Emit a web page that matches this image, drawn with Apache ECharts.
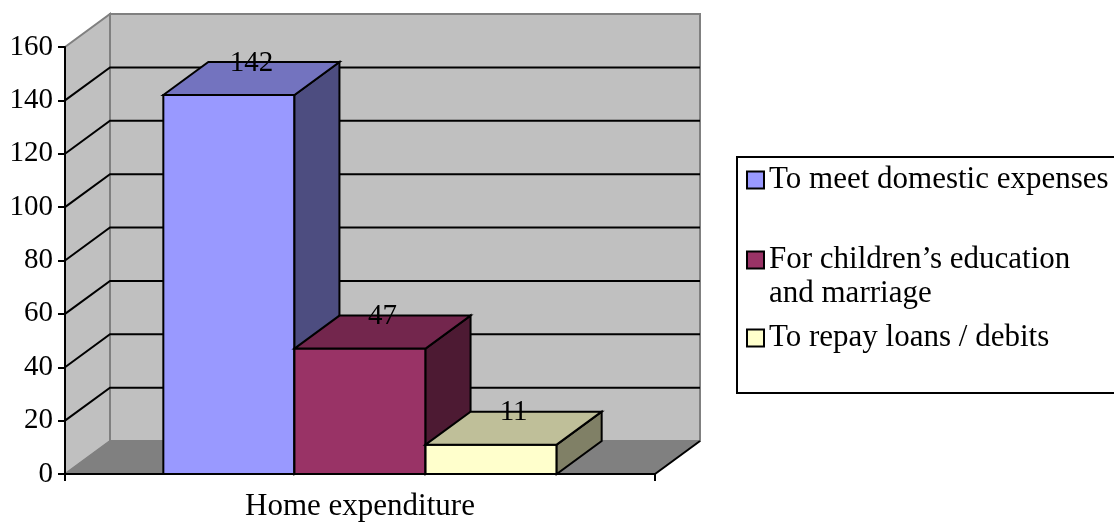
<!DOCTYPE html>
<html><head><meta charset="utf-8">
<script src="https://cdn.jsdelivr.net/npm/echarts@6/dist/echarts.min.js"></script>
<style>html,body{margin:0;padding:0;background:#fff}#c{width:1114px;height:522px}</style>
</head><body><div id="c"></div>
<script>
// ---- data ----
const categories = ['Home expenditure'];
const seriesNames = ['To meet domestic expenses', 'For children’s education and marriage', 'To repay loans / debits'];
const domestic = [142];
const education = [47];
const loans = [11];
const yTicks = [0, 20, 40, 60, 80, 100, 120, 140, 160];

// ---- style ----
const FONT = '"Liberation Serif", "Times New Roman", serif';
const DX = 45, DY = -33;       // 3D depth offset in pixels
const GAP = 1.5;               // gap width (fraction of bar width)
const PALETTE = [
  { front: '#9999FF', top: '#7373BF', side: '#4D4D80' },
  { front: '#993366', top: '#73264D', side: '#4D1A33' },
  { front: '#FFFFCC', top: '#BFBF99', side: '#808066' }
];
const seriesData = [domestic, education, loans];

function poly(points, fill, stroke, lw) {
  return { type: 'polygon', shape: { points }, style: { fill, stroke, lineWidth: lw } };
}
function line(points, stroke, lw) {
  return { type: 'polyline', shape: { points }, style: { fill: 'none', stroke, lineWidth: lw } };
}

function renderWalls(params, api) {
  const cs = params.coordSys;
  const xL = cs.x, xR = cs.x + cs.width;
  const yB = api.coord([0, yTicks[0]])[1];
  const yT = api.coord([0, yTicks[yTicks.length - 1]])[1];
  const ch = [];
  ch.push(poly([[xL + DX, yT + DY], [xR + DX, yT + DY], [xR + DX, yB + DY], [xL + DX, yB + DY]], '#C0C0C0', '#808080', 2));
  ch.push(poly([[xL, yT], [xL + DX, yT + DY], [xL + DX, yB + DY], [xL, yB]], '#C0C0C0', '#808080', 2));
  ch.push(poly([[xL, yB], [xL + DX, yB + DY], [xR + DX, yB + DY], [xR, yB]], '#808080', '#808080', 1));
  for (let i = 1; i < yTicks.length - 1; i++) {
    const y = api.coord([0, yTicks[i]])[1];
    ch.push(line([[xL, y], [xL + DX, y + DY], [xR + DX, y + DY]], '#000', 2));
  }
  ch.push(line([[xR, yB], [xR + DX, yB + DY]], '#000', 2));
  return { type: 'group', children: ch };
}

function makeBarRender(k) {
  return function (params, api) {
    const ci = api.value(0), v = api.value(1);
    const top = api.coord([ci, v]);
    const base = api.coord([ci, 0]);
    const bandW = api.size([1, 0])[0];
    const barW = bandW / (seriesData.length + GAP);
    const x0 = top[0] - barW * seriesData.length / 2 + k * barW;
    const x1 = x0 + barW;
    const yT = top[1], yB = base[1];
    const c = PALETTE[k];
    return {
      type: 'group',
      children: [
        poly([[x0, yT], [x1, yT], [x1, yB], [x0, yB]], c.front, '#000', 2),
        poly([[x1, yT], [x1 + DX, yT + DY], [x1 + DX, yB + DY], [x1, yB]], c.side, '#000', 2),
        poly([[x0, yT], [x0 + DX, yT + DY], [x1 + DX, yT + DY], [x1, yT]], c.top, '#000', 2),
        {
          type: 'text',
          style: {
            x: x0 + barW / 2 + DX / 2, y: yT + DY + 1,
            text: String(v), fill: '#000',
            font: '29px ' + FONT, align: 'center', verticalAlign: 'middle'
          }
        }
      ]
    };
  };
}

const series = [{
  name: 'walls', type: 'custom', coordinateSystem: 'cartesian2d',
  renderItem: renderWalls, data: [[0, 0]], z: -1, silent: true, clip: false
}];
seriesData.forEach((arr, k) => {
  series.push({
    name: seriesNames[k], type: 'custom', coordinateSystem: 'cartesian2d',
    renderItem: makeBarRender(k), clip: false, silent: true,
    itemStyle: { color: PALETTE[k].front, borderColor: '#000', borderWidth: 2 },
    data: arr.map((v, i) => [i, v])
  });
});

const legendLabels = ['To meet domestic expenses', '\nFor children’s education\nand marriage', 'To repay loans / debits'];
const legendTops = [163, 209, 321];
const legends = seriesNames.map((n, i) => ({
  data: [n], left: 746, top: legendTops[i], orient: 'vertical', padding: 0,
  icon: 'rect', itemWidth: 17, itemHeight: 17, selectedMode: false,
  itemStyle: { borderColor: '#000', borderWidth: 2 },
  formatter: () => legendLabels[i],
  textStyle: { fontFamily: FONT, fontSize: 31, color: '#000', lineHeight: 34 }
}));

const chart = echarts.init(document.getElementById('c'), null, { renderer: 'canvas' });
chart.setOption({
  animation: false,
  backgroundColor: '#fff',
  grid: { left: 65, right: 459, top: 47, bottom: 48, show: false },
  xAxis: {
    type: 'category', data: categories,
    axisLine: { show: true, lineStyle: { color: '#000', width: 2 } },
    axisTick: { show: true, length: 7, lineStyle: { color: '#000', width: 2 } },
    axisLabel: { fontFamily: FONT, fontSize: 31, color: '#000', margin: 17 },
    splitLine: { show: false }
  },
  yAxis: {
    type: 'value', min: yTicks[0], max: yTicks[yTicks.length - 1], interval: yTicks[1] - yTicks[0],
    axisLine: { show: true, lineStyle: { color: '#000', width: 2 } },
    axisTick: { show: true, length: 7, lineStyle: { color: '#000', width: 2 } },
    axisLabel: { fontFamily: FONT, fontSize: 29, color: '#000', margin: 12 },
    splitLine: { show: false }
  },
  legend: legends,
  graphic: [{
    type: 'rect', z: -10,
    shape: { x: 737, y: 157, width: 420, height: 236 },
    style: { fill: 'none', stroke: '#000', lineWidth: 2 }
  }],
  series
});
</script></body></html>
